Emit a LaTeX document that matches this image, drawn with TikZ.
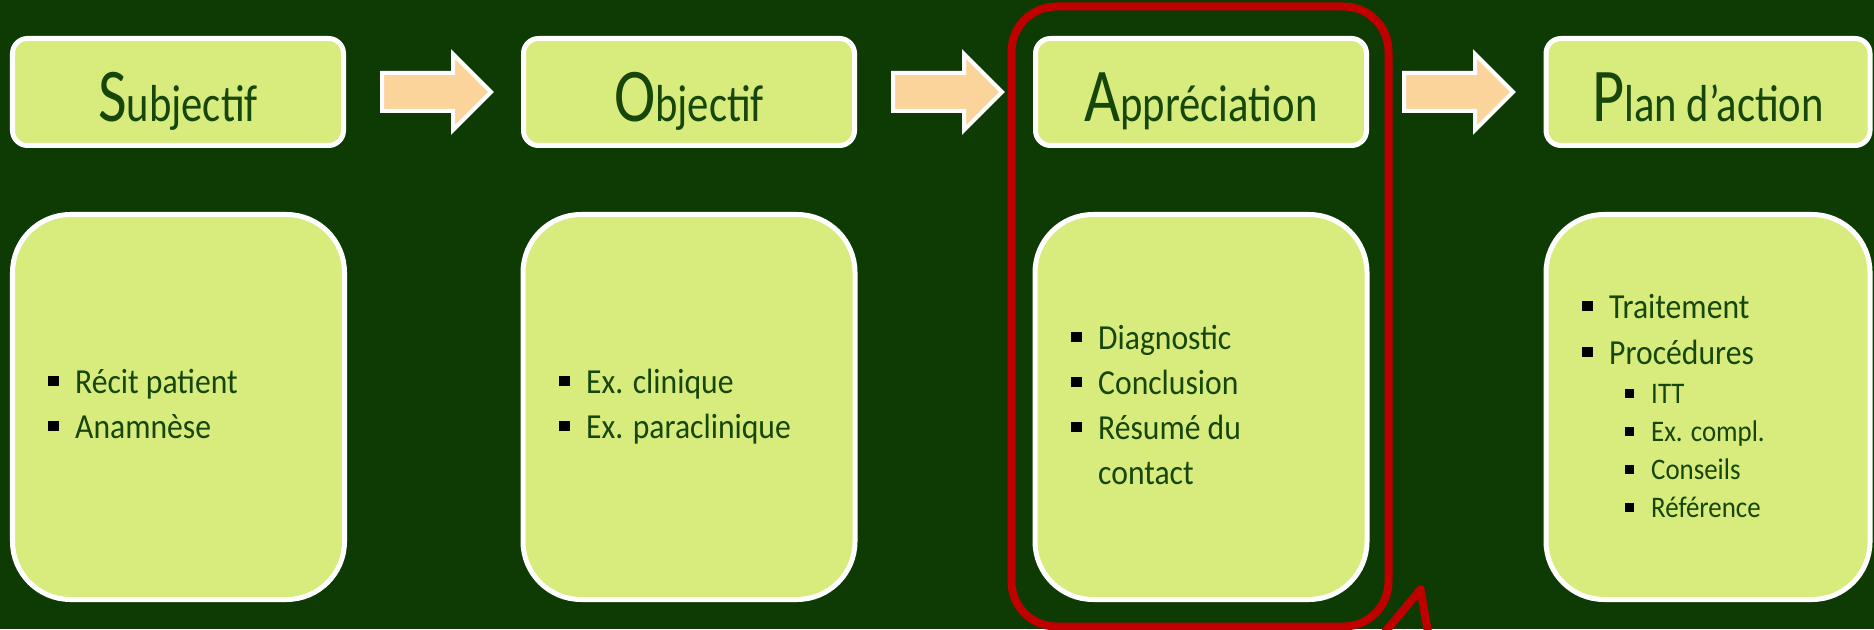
\documentclass[tikz,border=0pt]{standalone}
\usepackage{fontspec}
\setmainfont{Carlito}[FakeStretch=0.9]
\newfontfamily\headfont{Carlito}[FakeStretch=0.82]
\usetikzlibrary{positioning,calc,shapes.arrows}

\definecolor{bgreen}{RGB}{14,58,4}
\definecolor{boxfill}{RGB}{215,236,124}
\definecolor{arrowfill}{RGB}{251,212,156}
\definecolor{txtgreen}{RGB}{22,70,10}
\definecolor{calloutred}{RGB}{192,0,0}

\newcommand{\hd}[2]{{\headfont\fontsize{21.6}{24}\selectfont #1}{\headfont\fontsize{14.8}{17}\selectfont #2}}
\newcommand{\sqb}{\textcolor{black}{\rule[0.07cm]{0.105cm}{0.105cm}}}
\newcommand{\itm}[1]{\makebox[0.27cm][l]{\sqb}#1}
\newcommand{\subitm}[1]{\makebox[0.26cm][l]{\textcolor{black}{\rule[0.06cm]{0.09cm}{0.09cm}}}#1}

\tikzset{
  headbox/.style={draw=white, line width=0.05cm, fill=boxfill, rounded corners=0.15cm,
    minimum width=3.31cm, minimum height=1.07cm, inner sep=0},
  bodybox/.style={draw=white, line width=0.05cm, fill=boxfill, rounded corners=0.58cm,
    minimum width=3.32cm, minimum height=3.85cm, inner sep=0},
  blockarrow/.style={single arrow, draw=white, line width=0.04cm, fill=arrowfill, anchor=west,
    minimum height=1.09cm, minimum width=0.72cm, single arrow head extend=0.19cm, inner sep=0.17cm},
  titletxt/.style={anchor=base, inner sep=0, text=txtgreen},
  item/.style={anchor=base west, inner sep=0, text=txtgreen, font=\fontsize{10}{12}\selectfont},
  subitem/.style={item, font=\fontsize{8.5}{10}\selectfont},
  callout/.style={draw=calloutred, line width=0.08cm, rounded corners=0.45cm},
}

\begin{document}
\begin{tikzpicture}
\fill[bgreen] (0,0) rectangle (18.74,6.29);
\useasboundingbox (0,0) rectangle (18.74,6.29);

% header row
\node[headbox] (s-head) at (1.78,5.37) {};
\node[headbox] (o-head) at (6.89,5.37) {};
\node[headbox] (a-head) at (12.01,5.37) {};
\node[headbox, minimum width=3.24cm] (p-head) at (17.08,5.37) {};

\node[titletxt] (s-title) at ($(s-head.center)+(0,-0.30)$) {\hd{S}{ubjectif}};
\node[titletxt] (o-title) at ($(o-head.center)+(0,-0.30)$) {\hd{O}{bjectif}};
\node[titletxt] (a-title) at ($(a-head.center)+(0,-0.30)$) {\hd{A}{ppréciation}};
\node[titletxt] (p-title) at ($(p-head.center)+(0,-0.30)$) {\hd{P}{lan d’action}};

% arrows
\node[blockarrow] (arr1) at ($(s-head.east)+(0.34,0)$) {};
\node[blockarrow] (arr2) at ($(o-head.east)+(0.34,0)$) {};
\node[blockarrow] (arr3) at ($(a-head.east)+(0.33,0)$) {};

% content row
\node[bodybox] (s-body) at (1.785,2.22) {};
\node[bodybox] (o-body) at (6.89,2.22) {};
\node[bodybox] (a-body) at (12.01,2.22) {};
\node[bodybox, minimum width=3.24cm] (p-body) at (17.08,2.22) {};

\foreach \txt [count=\i] in {Récit patient, Anamnèse}
  \node[item] (s-item\i) at ($(s-body.north west)+(0.375,{-1.365-0.45*\i})$) {\itm{\txt}};
\foreach \txt [count=\i] in {Ex. clinique, Ex. paraclinique}
  \node[item] (o-item\i) at ($(o-body.north west)+(0.38,{-1.365-0.45*\i})$) {\itm{\txt}};
\foreach \txt [count=\i] in {Diagnostic, Conclusion, Résumé du}
  \node[item] (a-item\i) at ($(a-body.north west)+(0.38,{-0.925-0.45*\i})$) {\itm{\txt}};
\node[item] (a-item4) at ($(a-body.north west)+(0.65,-2.725)$) {contact};

\node[item] (p-item1) at ($(p-body.north west)+(0.38,-1.065)$) {\itm{Traitement}};
\node[item] (p-item2) at ($(p-body.north west)+(0.38,-1.525)$) {\itm{Procédures}};
\foreach \txt [count=\i] in {ITT, Ex. compl., Conseils, Référence}
  \node[subitem] (p-sub\i) at ($(p-body.north west)+(0.81,{-1.535-0.38*\i})$) {\subitm{\txt}};

% red callout round the A column
\draw[callout] ($(a-head.north west)+(-0.215,0.295)$) rectangle ($(a-body.south east)+(0.19,-0.245)$);
\coordinate (tail-tip) at ($(a-body.south east)+(0.51,0.125)$);
\coordinate (tail-l) at (13.75,-0.15);
\coordinate (tail-r) at (14.30,-0.15);
\begin{scope}
  \clip (0,0) rectangle (18.74,6.29);
  \draw[callout, rounded corners=0, line join=round] (tail-l) -- (tail-tip) -- (tail-r);
\end{scope}
\end{tikzpicture}
\end{document}
